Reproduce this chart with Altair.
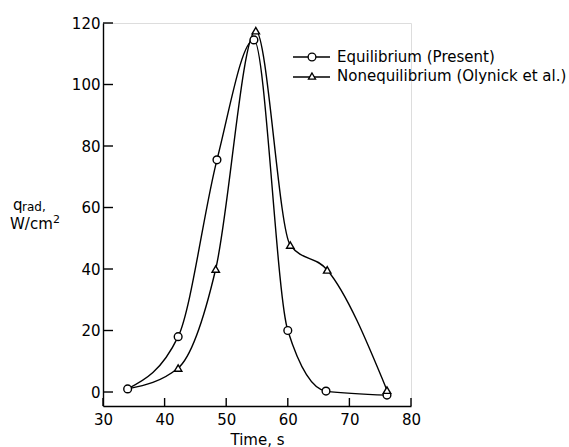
import altair as alt
import pandas as pd

# ---- data ----
series = ["Equilibrium (Present)", "Nonequilibrium (Olynick et al.)"]
time_eq = [34.0, 42.2, 48.5, 54.5, 60.0, 66.2, 76.1]
q_eq = [1.0, 18.0, 75.5, 114.5, 20.0, 0.3, -1.0]
time_neq = [34.0, 42.2, 48.3, 54.8, 60.4, 66.4, 76.1]
q_neq = [1.0, 7.8, 40.0, 117.5, 47.8, 39.7, 0.6]
neq_marker = [False, True, True, True, True, True, True]
x_ticks = [30, 40, 50, 60, 70, 80]
y_ticks = [0, 20, 40, 60, 80, 100, 120]

W, H = 308, 383
FONT = "DejaVu Sans"
FS = 15

eq = pd.DataFrame({"t": time_eq, "q": q_eq, "series": series[0], "marker": True})
neq = pd.DataFrame({"t": time_neq, "q": q_neq, "series": series[1], "marker": neq_marker})
df = pd.concat([eq, neq], ignore_index=True)

xs = alt.Scale(domain=[30, 80], nice=False, zero=False)
ys = alt.Scale(domain=[-4.55, 120], nice=False, zero=False)

x_enc = alt.X("t:Q", scale=xs, axis=alt.Axis(
    values=x_ticks, ticks=False, tickSize=0, grid=False, domainColor="black", domainWidth=1.4,
    labelFont=FONT, labelFontSize=FS, labelColor="black", labelPadding=6,
    labelFlush=False, labelOverlap=False,
    title="Time, s", titleFont=FONT, titleFontSize=FS, titleFontWeight="normal",
    titleColor="black", titlePadding=5))
y_enc = alt.Y("q:Q", scale=ys, axis=alt.Axis(
    values=y_ticks, ticks=False, tickSize=0, grid=False, domainColor="black", domainWidth=1.4,
    labelFont=FONT, labelFontSize=FS, labelColor="black", labelPadding=3,
    labelFlush=False, labelOverlap=False, title=None))

base = alt.Chart(df)

lines = base.mark_line(interpolate="monotone", color="black", strokeWidth=1.4).encode(
    x=x_enc, y=y_enc, detail="series:N")

pts_eq = base.transform_filter(alt.datum.series == series[0]).mark_point(
    shape="circle", filled=True, fill="white", stroke="black", strokeWidth=1.4, size=60, opacity=1
).encode(x=alt.X("t:Q", scale=xs), y=alt.Y("q:Q", scale=ys))

pts_neq = base.transform_filter(
    (alt.datum.series == series[1]) & (alt.datum.marker == True)
).mark_point(
    shape="triangle-up", filled=True, fill="white", stroke="black", strokeWidth=1.4, size=55, opacity=1
).encode(x=alt.X("t:Q", scale=xs), y=alt.Y("q:Q", scale=ys))

ytick_df = pd.DataFrame({"v": y_ticks})
xtick_df = pd.DataFrame({"v": x_ticks})
yticks = alt.Chart(ytick_df).mark_rule(color="black", strokeWidth=1.4).encode(
    y=alt.Y("v:Q", scale=ys), x=alt.value(0), x2=alt.value(10))
xticks = alt.Chart(xtick_df).mark_rule(color="black", strokeWidth=1.4).encode(
    x=alt.X("v:Q", scale=xs), y=alt.value(H), y2=alt.value(H - 8))

one = alt.Data(values=[{"a": 1}])


def txt(s, x, y, fs=FS, baseline="alphabetic"):
    return alt.Chart(one).mark_text(font=FONT, fontSize=fs, align="left", baseline=baseline,
                                    color="black").encode(
        x=alt.value(x), y=alt.value(y), text=alt.value(s))


# y-axis title  q_rad, W/cm^2
t_q = txt("q", -90, 187)
t_rad = txt("rad,", -81, 188, fs=12)
t_w = txt("W/cm", -93, 206)
t_2 = txt("2", -50, 200, fs=11)

# legend (drawn manually: short line with marker, then label)
leg = []
for i, (s, shp) in enumerate(zip(series, ["circle", "triangle-up"])):
    yy = 34 + 19 * i
    leg.append(alt.Chart(one).mark_rule(color="black", strokeWidth=1.3).encode(
        x=alt.value(190), x2=alt.value(227), y=alt.value(yy + (1 if i else 0))))
    leg.append(alt.Chart(one).mark_point(
        shape=shp, filled=True, fill="white", stroke="black", strokeWidth=1.3,
        size=60 if i == 0 else 50, opacity=1).encode(x=alt.value(209), y=alt.value(yy)))
    leg.append(txt(s, 234, yy, baseline="middle"))

chart = alt.layer(
    lines, pts_eq, pts_neq, yticks, xticks, t_q, t_rad, t_w, t_2, *leg
).properties(
    width=W, height=H,
    autosize=alt.AutoSizeParams(type="none"),
    padding={"left": 103, "top": 23, "right": 569 - 103 - W, "bottom": 447 - 23 - H},
).configure_view(stroke=None).configure(background="white")

chart.save("out.html", embed_options={"renderer": "svg", "actions": False})
